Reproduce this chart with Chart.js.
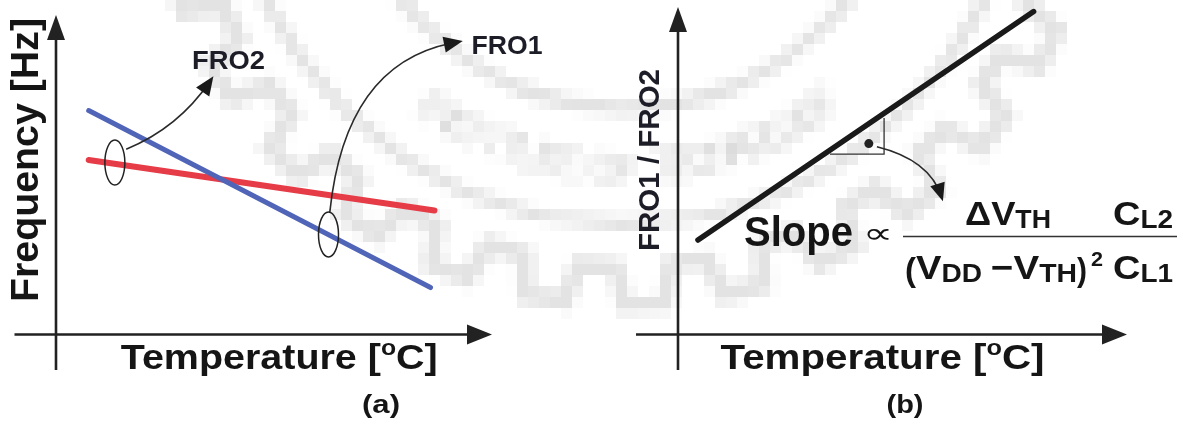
<!DOCTYPE html>
<html>
<head>
<meta charset="utf-8">
<script src="https://cdn.jsdelivr.net/npm/chart.js@4.4.1/dist/chart.umd.min.js"></script>
<style>
  html, body { margin: 0; padding: 0; background: #fff; }
  #wrap { position: relative; width: 1183px; height: 428px; overflow: hidden; }
  canvas { position: absolute; left: 0; top: 0; }
</style>
</head>
<body>
<div id="wrap">
  <canvas id="chartA" width="1183" height="428"></canvas>
  <canvas id="chartB" width="1183" height="428"></canvas>
</div>
<script>
// both axes are unitless, 0..100 in each panel
const fro1Temp = [7.5, 85.9];
const fro1Freq = [70.1, 14.7];
const fro2Temp = [7.5, 86.8];
const fro2Freq = [54.6, 38.8];
const ratioTemp = [4.45, 79.2];
const ratioVal = [28.85, 98.6];

// ellipses that mark each line, and the curved callouts to their names
const markA = [{ x: 13.5, y: 53.8 }, { x: 62.5, y: 31.3 }];
const calloutA = [
  { from: [16.1, 58.0], ctrl: [28.0, 64.6], to: [36.1, 80.8] },
  { from: [62.8, 38.3], ctrl: [66.3, 84.4], to: [93.3, 91.9] }
];
const slopeBox = { x0: 33.85, x1: 45.9, y0: 55.1, y1: 66.1 };
const slopeDot = { x: 42.5, y: 58.3 };
const calloutB = { from: [44.3, 57.3], ctrl: [56.1, 53.3], to: [59.0, 40.7] };

const INK = '#151515';
const SANS = '"Liberation Sans", Arial, Helvetica, sans-serif';

function pts(xs, ys) { return xs.map((x, i) => ({ x: x, y: ys[i] })); }

function drawRuns(ctx, runs, x, y, w, rot, color) {
  ctx.save();
  ctx.fillStyle = color || INK;
  ctx.textAlign = 'left';
  ctx.textBaseline = 'alphabetic';
  let tot = 0;
  runs.forEach(r => { ctx.font = r.f; r.w = ctx.measureText(r.t).width + (r.gap || 0); tot += r.w; });
  ctx.translate(x, y);
  if (rot) ctx.rotate(rot);
  if (w) ctx.scale(w / tot, 1);
  let cx = 0;
  runs.forEach(r => { ctx.font = r.f; ctx.fillText(r.t, cx, r.dy || 0); cx += r.w; });
  ctx.restore();
}

function head(ctx, tx, ty, fx, fy, len, half) {
  const a = Math.atan2(ty - fy, tx - fx);
  const bx = tx - len * Math.cos(a), by = ty - len * Math.sin(a);
  ctx.beginPath();
  ctx.moveTo(tx, ty);
  ctx.lineTo(bx + half * Math.sin(a), by - half * Math.cos(a));
  ctx.lineTo(bx - half * Math.sin(a), by + half * Math.cos(a));
  ctx.closePath();
  ctx.fill();
}

function axesArrows(ctx, area, extL, extB) {
  ctx.save();
  ctx.strokeStyle = '#222';
  ctx.fillStyle = '#222';
  ctx.lineWidth = 2.6;
  ctx.beginPath();
  ctx.moveTo(area.left, area.bottom + extB);
  ctx.lineTo(area.left, area.top + 18);
  ctx.moveTo(area.left - extL, area.bottom);
  ctx.lineTo(area.right - 18, area.bottom);
  ctx.stroke();
  head(ctx, area.left, area.top, area.left, area.top + 30, 25, 9);
  head(ctx, area.right, area.bottom, area.right - 30, area.bottom, 25, 10);
  ctx.restore();
}

function curvedArrow(chart, c, lw, hl) {
  const ctx = chart.ctx, sx = chart.scales.x, sy = chart.scales.y;
  const p0 = [sx.getPixelForValue(c.from[0]), sy.getPixelForValue(c.from[1])];
  const pc = [sx.getPixelForValue(c.ctrl[0]), sy.getPixelForValue(c.ctrl[1])];
  const p1 = [sx.getPixelForValue(c.to[0]), sy.getPixelForValue(c.to[1])];
  ctx.save();
  ctx.strokeStyle = '#2a2a2a';
  ctx.fillStyle = '#1a1a1a';
  ctx.lineWidth = lw;
  ctx.beginPath();
  ctx.moveTo(p0[0], p0[1]);
  ctx.quadraticCurveTo(pc[0], pc[1], p1[0] - (p1[0] - pc[0]) * 0.1, p1[1] - (p1[1] - pc[1]) * 0.1);
  ctx.stroke();
  head(ctx, p1[0], p1[1], pc[0], pc[1], hl, hl * 0.42);
  ctx.restore();
}

// faint, blocky university crest behind everything
function watermark(ctx) {
  const f = 11;
  const lo = document.createElement('canvas');
  lo.width = Math.ceil(1183 / f);
  lo.height = Math.ceil(428 / f);
  const g = lo.getContext('2d');
  g.scale(1 / f, 1 / f);
  const cx = 625, cy = -173;
  g.strokeStyle = 'rgba(0,0,0,0.11)';
  g.lineWidth = 18;
  g.beginPath();
  const n = 30, R = 478, r = 440;
  for (let i = 0; i <= n; i++) {
    const a0 = i / n * Math.PI * 2, st = Math.PI * 2 / n;
    const pts4 = [[a0, r], [a0 + st * 0.1, R], [a0 + st * 0.5, R], [a0 + st * 0.6, r]];
    pts4.forEach((p, k) => {
      const X = cx + p[1] * Math.cos(p[0]), Y = cy + p[1] * Math.sin(p[0]);
      if (i === 0 && k === 0) g.moveTo(X, Y); else g.lineTo(X, Y);
    });
  }
  g.stroke();
  g.lineWidth = 14;
  g.beginPath(); g.arc(cx, cy, 398, 0, Math.PI * 2); g.stroke();
  g.beginPath(); g.arc(cx, cy, 282, 0, Math.PI * 2); g.stroke();
  g.fillStyle = 'rgba(0,0,0,0.11)';
  g.font = 'bold 46px ' + SANS;
  g.textAlign = 'center';
  const word = 'INSTITUTE OF TECHNOLOGY';
  const span = 1.25;
  for (let i = 0; i < word.length; i++) {
    const th = Math.PI / 2 + span / 2 - span * i / (word.length - 1);
    g.save();
    g.translate(cx + 340 * Math.cos(th), cy + 340 * Math.sin(th));
    g.rotate(th - Math.PI / 2);
    g.fillText(word[i], 0, 16);
    g.restore();
  }
  ctx.save();
  ctx.imageSmoothingEnabled = false;
  ctx.drawImage(lo, 0, 0, lo.width * f, lo.height * f);
  ctx.restore();
}

const panelA = {
  id: 'panelA',
  beforeDatasetsDraw(chart) {
    const ctx = chart.ctx;
    ctx.save();
    ctx.fillStyle = '#fff';
    ctx.fillRect(0, 0, chart.width, chart.height);
    ctx.restore();
    watermark(ctx);
  },
  afterDatasetsDraw(chart) {
    const ctx = chart.ctx, sx = chart.scales.x, sy = chart.scales.y;
    axesArrows(ctx, chart.chartArea, 41.5, 35.5);
    ctx.save();
    ctx.strokeStyle = '#222';
    ctx.lineWidth = 1.5;
    markA.forEach(m => {
      ctx.beginPath();
      ctx.ellipse(sx.getPixelForValue(m.x), sy.getPixelForValue(m.y), 10, 22.5, 0, 0, Math.PI * 2);
      ctx.stroke();
    });
    ctx.restore();
    calloutA.forEach(c => curvedArrow(chart, c, 1.6, 19));
    const b = 'bold ';
    drawRuns(ctx, [{ t: 'FRO2', f: b + '26px ' + SANS }], 192, 69, 73, 0, '#1d1d28');
    drawRuns(ctx, [{ t: 'FRO1', f: b + '26px ' + SANS }], 471.6, 54, 71, 0, '#1d1d28');
    drawRuns(ctx, [{ t: 'Frequency [Hz]', f: b + '38px ' + SANS }], 38, 302, 284, -Math.PI / 2);
    drawRuns(ctx, [
      { t: 'Temperature [', f: b + '35px ' + SANS },
      { t: 'o', f: b + '22px ' + SANS, dy: -14 },
      { t: 'C]', f: b + '35px ' + SANS }
    ], 120.7, 369, 317);
    drawRuns(ctx, [{ t: '(a)', f: b + '25px ' + SANS }], 362, 413, 38);
  }
};

const panelB = {
  id: 'panelB',
  afterDatasetsDraw(chart) {
    const ctx = chart.ctx, sx = chart.scales.x, sy = chart.scales.y;
    axesArrows(ctx, chart.chartArea, 42, 35.5);
    ctx.save();
    ctx.strokeStyle = '#333';
    ctx.lineWidth = 1.3;
    ctx.beginPath();
    ctx.moveTo(sx.getPixelForValue(slopeBox.x0), sy.getPixelForValue(slopeBox.y0));
    ctx.lineTo(sx.getPixelForValue(slopeBox.x1), sy.getPixelForValue(slopeBox.y0));
    ctx.lineTo(sx.getPixelForValue(slopeBox.x1), sy.getPixelForValue(slopeBox.y1));
    ctx.stroke();
    ctx.fillStyle = '#222';
    ctx.beginPath();
    ctx.arc(sx.getPixelForValue(slopeDot.x), sy.getPixelForValue(slopeDot.y), 4.5, 0, Math.PI * 2);
    ctx.fill();
    ctx.restore();
    curvedArrow(chart, calloutB, 1.6, 18);

    const b = 'bold ';
    const big = b + '34px ' + SANS, sub = b + '25px ' + SANS;
    drawRuns(ctx, [{ t: 'FRO1 / FRO2', f: b + '30px ' + SANS }], 659, 251, 182, -Math.PI / 2, '#1d1d28');
    drawRuns(ctx, [{ t: 'Slope', f: b + '43px ' + SANS }], 744, 246, 109);
    drawRuns(ctx, [{ t: '\u221D', f: '29px "DejaVu Sans", sans-serif' }], 863, 243, 30);
    ctx.save();
    ctx.strokeStyle = '#333';
    ctx.lineWidth = 1.6;
    ctx.beginPath();
    ctx.moveTo(903, 236.5);
    ctx.lineTo(1177, 236.5);
    ctx.stroke();
    ctx.restore();
    drawRuns(ctx, [{ t: '\u0394V', f: big }, { t: 'TH', f: sub, dy: 3 }], 965, 225, 86);
    drawRuns(ctx, [{ t: 'C', f: big }, { t: 'L2', f: sub, dy: 3 }], 1113, 225, 60);
    drawRuns(ctx, [{ t: '(', f: big }], 905, 281, 11);
    drawRuns(ctx, [{ t: 'V', f: big }, { t: 'DD', f: sub, dy: 3 }], 916, 279, 66);
    drawRuns(ctx, [{ t: '\u2212V', f: big }, { t: 'TH', f: sub, dy: 3 }], 991, 279, 86);
    drawRuns(ctx, [{ t: ')', f: big }], 1077, 281, 10);
    drawRuns(ctx, [{ t: '2', f: b + '21px ' + SANS }], 1091, 266, 12);
    drawRuns(ctx, [{ t: 'C', f: big }, { t: 'L1', f: sub, dy: 3 }], 1113, 279, 60);
    drawRuns(ctx, [
      { t: 'Temperature [', f: b + '35px ' + SANS },
      { t: 'o', f: b + '22px ' + SANS, dy: -14 },
      { t: 'C]', f: b + '35px ' + SANS }
    ], 720.5, 369, 324);
    drawRuns(ctx, [{ t: '(b)', f: b + '25px ' + SANS }], 886.5, 413, 37);
  }
};

function baseOptions(pad) {
  return {
    responsive: false,
    animation: false,
    devicePixelRatio: 1,
    layout: { padding: pad },
    plugins: { legend: { display: false }, tooltip: { enabled: false } },
    elements: { point: { radius: 0 }, line: { tension: 0, borderCapStyle: 'round' } },
    scales: {
      x: { type: 'linear', min: 0, max: 100, display: false },
      y: { type: 'linear', min: 0, max: 100, display: false }
    }
  };
}

new Chart(document.getElementById('chartA'), {
  type: 'line',
  data: {
    datasets: [
      { label: 'FRO1', data: pts(fro1Temp, fro1Freq), borderColor: '#5065b8', borderWidth: 5 },
      { label: 'FRO2', data: pts(fro2Temp, fro2Freq), borderColor: '#e63c47', borderWidth: 6 }
    ]
  },
  options: baseOptions({ left: 56, right: 691, top: 15, bottom: 93.5 }),
  plugins: [panelA]
});

new Chart(document.getElementById('chartB'), {
  type: 'line',
  data: {
    datasets: [
      { label: 'FRO1 / FRO2', data: pts(ratioTemp, ratioVal), borderColor: '#1a1a1a', borderWidth: 5.5 }
    ]
  },
  options: baseOptions({ left: 678, right: 56, top: 7, bottom: 93.5 }),
  plugins: [panelB]
});
</script>
</body>
</html>
